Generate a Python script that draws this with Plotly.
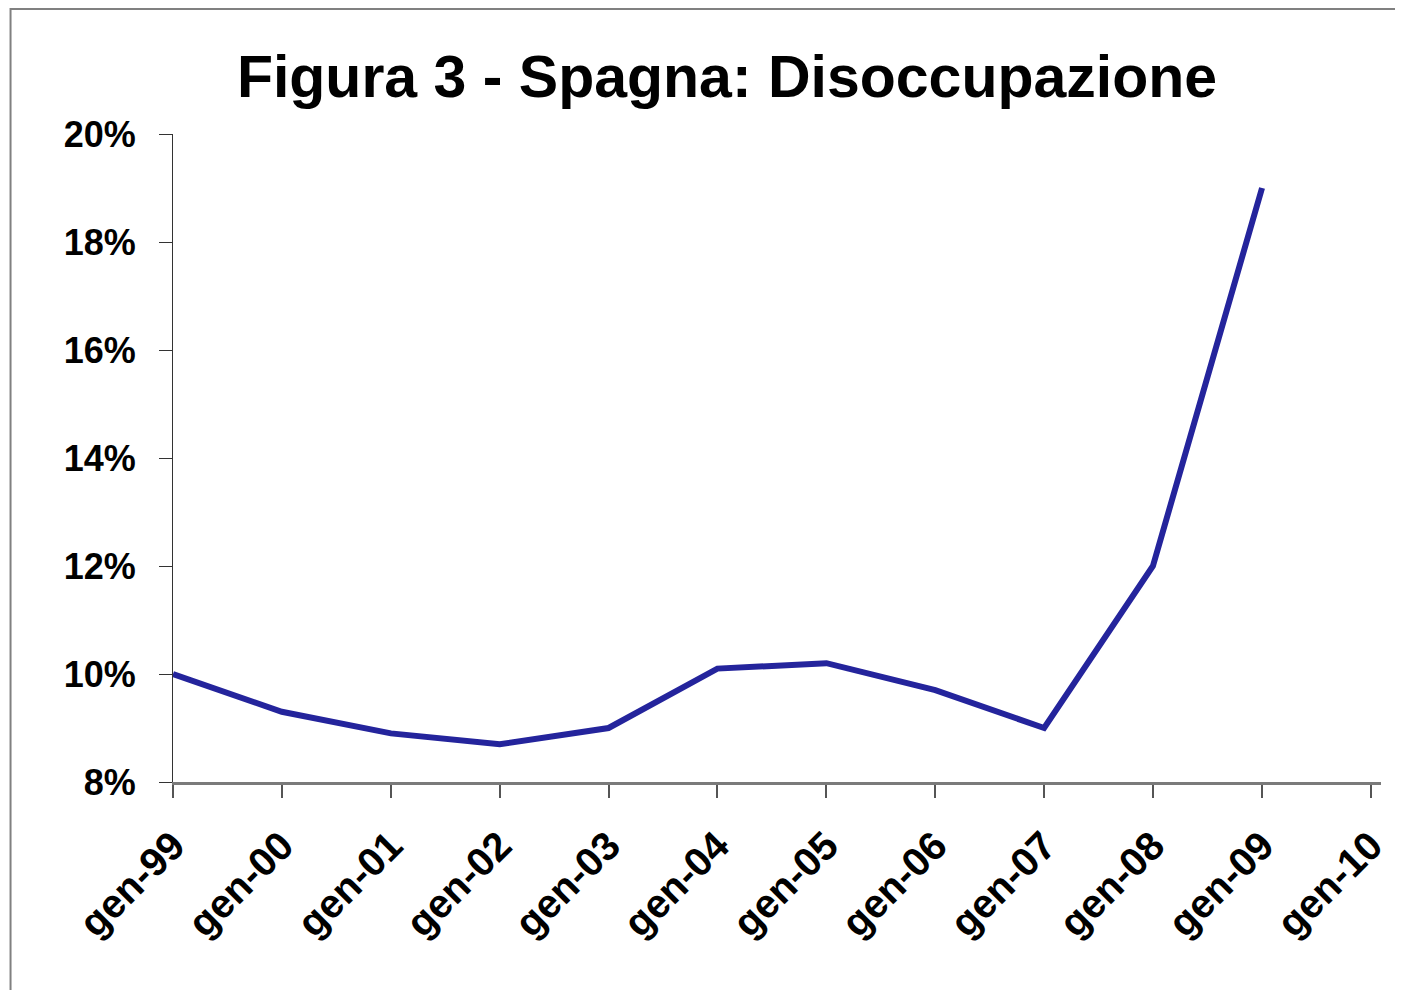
import plotly.graph_objects as go

# Data
dates = ["1999-01-01", "2000-01-01", "2001-01-01", "2002-01-01", "2003-01-01",
         "2004-01-01", "2005-01-01", "2006-01-01", "2007-01-01", "2008-01-01", "2009-01-01"]
unemployment = [10.0, 9.3, 8.9, 8.7, 9.0, 10.1, 10.2, 9.7, 9.0, 12.0, 19.0]

tick_dates = ["1999-01-01", "2000-01-01", "2001-01-01", "2002-01-01", "2003-01-01", "2004-01-01",
              "2005-01-01", "2006-01-01", "2007-01-01", "2008-01-01", "2009-01-01", "2010-01-01"]
tick_labels = ["gen-99", "gen-00", "gen-01", "gen-02", "gen-03", "gen-04",
               "gen-05", "gen-06", "gen-07", "gen-08", "gen-09", "gen-10"]
y_ticks = [8, 10, 12, 14, 16, 18, 20]

title_text = "Figura 3 - Spagna: Disoccupazione"

# page has an 8px body margin
W, H = 1395, 982
L, R, T, B = 165, 18, 126, 208

fig = go.Figure()
fig.add_trace(go.Scatter(
    x=dates, y=unemployment, mode="lines",
    line=dict(color="#24249C", width=6),
    showlegend=False, hoverinfo="x+y",
))

font_family = "Liberation Sans, Arial, sans-serif"

fig.update_layout(
    width=W, height=H,
    margin=dict(l=L, r=R, t=T, b=B),
    paper_bgcolor="white", plot_bgcolor="white",
    title=dict(text="<b>" + title_text + "</b>", x=719 / W, xref="container", xanchor="center",
               y=1 - 68 / H, yref="container", yanchor="middle",
               font=dict(family=font_family, size=59, color="black")),
    font=dict(family=font_family, color="black"),
)

fig.update_xaxes(
    type="date", range=["1999-01-01", "2010-02-04"],
    tickvals=tick_dates, ticktext=["<b>" + t + "</b>" for t in tick_labels],
    tickangle=-45, tickfont=dict(size=40, family=font_family, color="black"),
    ticks="outside", ticklen=13, tickwidth=2, tickcolor="#555555",
    showline=True, linecolor="#7a7a7a", linewidth=3,
    showgrid=False, zeroline=False,
    ticklabelstandoff=8,
)
fig.update_yaxes(
    range=[8, 20], tickvals=y_ticks,
    ticktext=["<b>%d%%</b>" % v for v in y_ticks],
    tickfont=dict(size=36, family=font_family, color="black"),
    ticks="outside", ticklen=13, tickwidth=1, tickcolor="#333333",
    showline=True, linecolor="#333333", linewidth=1,
    showgrid=False, zeroline=False,
    ticklabelstandoff=16,
)

# outer frame
pw, ph = W - L - R, H - T - B
fig.add_shape(type="rect", xref="paper", yref="paper",
              x0=(2 - L) / pw, x1=(W + 20 - L) / pw,
              y0=(H - B - (H + 20)) / ph, y1=(H - B - 1) / ph,
              line=dict(color="#808080", width=2), fillcolor="rgba(0,0,0,0)", layer="below")

fig.write_html("out.html")
